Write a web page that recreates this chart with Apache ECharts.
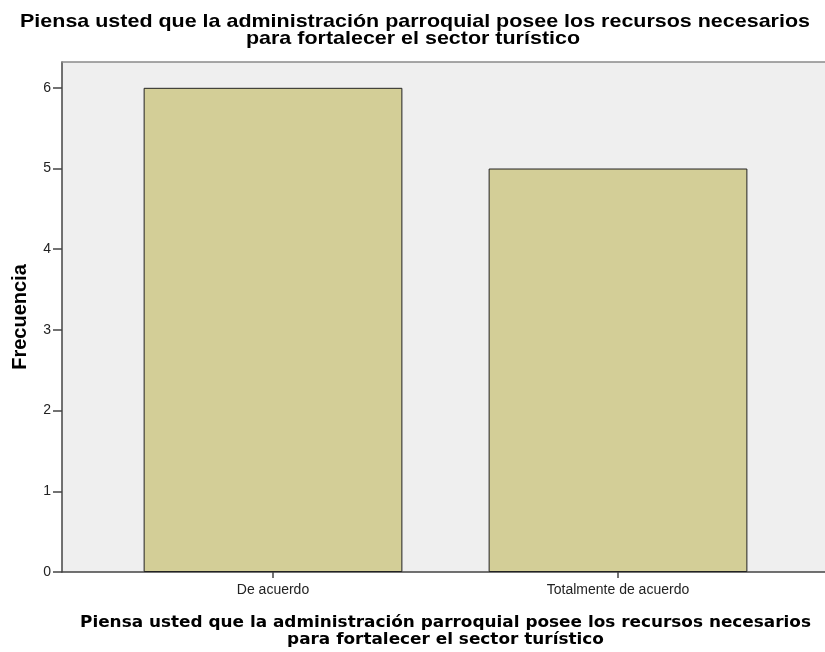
<!DOCTYPE html>
<html>
<head>
<meta charset="utf-8">
<script src="https://cdn.jsdelivr.net/npm/echarts@6/dist/echarts.min.js"></script>
<style>
  html, body { margin: 0; padding: 0; background: #fff; }
  #chart { width: 825px; height: 652px; }
</style>
</head>
<body>
<div id="chart"></div>
<script>
// data
const categories = ['De acuerdo', 'Totalmente de acuerdo']
const frecuencia = [6, 5]
const yTicks = [0, 1, 2, 3, 4, 5, 6]
const titleLines = [
  'Piensa usted que la administración parroquial posee los recursos necesarios',
  'para fortalecer el sector turístico'
]
const yName = 'Frecuencia'

const yMax = 6.32

const chart = echarts.init(document.getElementById('chart'))

// the original picture is a bit stretched sideways, so texts get a scaleX
function stretchedText(str, x, y, font, sx) {
  return {
    type: 'text',
    x: x,
    y: y,
    scaleX: sx,
    style: {
      text: str,
      font: font,
      align: 'center',
      verticalAlign: 'middle',
      fill: '#000'
    }
  }
}

const titleFont = 'bold 19px "Liberation Sans"'
const xNameFont = 'bold 16px "DejaVu Sans"'

const options = {
  animation: false,
  graphic: [
    stretchedText(titleLines[0], 415, 21.5, titleFont, 1.13),
    stretchedText(titleLines[1], 413, 38.8, titleFont, 1.13),
    stretchedText(titleLines[0], 445.5, 622.5, xNameFont, 1.055),
    stretchedText(titleLines[1], 445.5, 639.5, xNameFont, 1.055)
  ],
  grid: [{
    // frame and background
    left: 62, right: 0, top: 62, bottom: 80,
    outerBoundsMode: 'none',
    show: true,
    backgroundColor: '#efefef',
    borderWidth: 0
  }, {
    // bars
    left: 100.5, right: 34.5, top: 62, bottom: 80,
    outerBoundsMode: 'none'
  }],
  xAxis: [{
    gridIndex: 0,
    type: 'value',
    position: 'bottom',
    min: 0, max: 1,
    axisLine: { show: true, lineStyle: { color: '#444', width: 1.5 } },
    axisTick: { show: false },
    axisLabel: { show: false },
    splitLine: { show: false }
  }, {
    gridIndex: 0,
    type: 'value',
    position: 'top',
    min: 0, max: 1,
    axisLine: { show: true, lineStyle: { color: '#8a8a8a', width: 1.5 } },
    axisTick: { show: false },
    axisLabel: { show: false },
    splitLine: { show: false }
  }, {
    gridIndex: 1,
    type: 'category',
    data: categories,
    axisLine: { show: false },
    axisTick: { show: true, alignWithLabel: true, length: 6, lineStyle: { color: '#444', width: 1.5 } },
    axisLabel: {
      margin: 11,
      fontFamily: 'Liberation Sans',
      fontSize: 14,
      color: '#222'
    }
  }],
  yAxis: [{
    gridIndex: 0,
    type: 'value',
    min: 0, max: yMax, interval: 1,
    name: yName,
    nameLocation: 'middle',
    nameGap: 32,
    nameRotate: 90,
    nameTextStyle: {
      fontFamily: 'Liberation Sans',
      fontWeight: 'bold',
      fontSize: 20,
      color: '#000'
    },
    axisLine: { show: true, lineStyle: { color: '#444', width: 1.5 } },
    axisTick: { show: true, length: 9, customValues: yTicks, lineStyle: { color: '#444', width: 1.5 } },
    axisLabel: {
      margin: 11,
      fontFamily: 'Liberation Sans',
      fontSize: 14,
      color: '#222',
      customValues: yTicks
    },
    splitLine: { show: false }
  }, {
    gridIndex: 1,
    type: 'value',
    min: 0, max: yMax, interval: 1,
    show: false
  }],
  series: [{
    type: 'bar',
    xAxisIndex: 2,
    yAxisIndex: 1,
    data: frecuencia,
    barWidth: '75%',
    itemStyle: {
      color: '#d3ce97',
      borderColor: '#222',
      borderWidth: 1
    }
  }]
}

chart.setOption(options)
</script>
</body>
</html>
